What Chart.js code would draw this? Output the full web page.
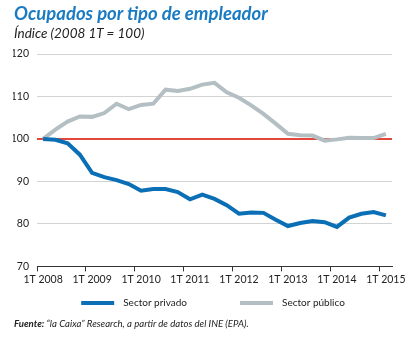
<!DOCTYPE html>
<html>
<head>
<meta charset="utf-8">
<script src="https://cdn.jsdelivr.net/npm/chart.js@4"></script>
<style>
  body { margin: 0; background: #fff; font-family: Lato, sans-serif; }
  #wrap { position: relative; width: 408px; height: 338px; }
  #chart { position: absolute; left: 0; top: 0; }
  .title { position: absolute; left: 14px; top: 2px; font-size: 18.5px; font-weight: bold; font-style: italic; color: #1b7bc2; white-space: nowrap; }
  .sub { position: absolute; left: 14px; top: 25px; font-size: 13.5px; font-style: italic; color: #222; white-space: nowrap; }
  .src { position: absolute; left: 14px; top: 318px; font-size: 9.6px; font-style: italic; color: #222; white-space: nowrap; }
</style>
</head>
<body>
<div id="wrap">
  <canvas id="chart" width="408" height="338"></canvas>
  <div class="title">Ocupados por tipo de empleador</div>
  <div class="sub">Índice (2008 1T = 100)</div>
  <div class="src"><b>Fuente:</b> “la Caixa” Research, a partir de datos del INE (EPA).</div>
</div>
<script>
// trimestres 1T 2008 .. 1T 2015
const quarters = [];
for (let y = 2008; y <= 2015; y++) {
    for (let q = 1; q <= 4; q++) {
        if (y === 2015 && q > 1) break;
        quarters.push(q + 'T ' + y);
    }
}

const privado = [100, 99.8, 99.0, 96.3, 92.0, 91.0, 90.3, 89.4, 87.8, 88.2,
    88.2, 87.5, 85.8, 86.9, 85.9, 84.4, 82.4, 82.7, 82.6, 81.0,
    79.5, 80.2, 80.7, 80.4, 79.3, 81.5, 82.4, 82.8, 82.0];

const publico = [100, 102.2, 104.1, 105.3, 105.2, 106.1, 108.3, 107.0, 108.0, 108.3,
    111.6, 111.3, 111.8, 112.8, 113.2, 111.0, 109.7, 107.9, 105.9, 103.6,
    101.2, 100.9, 100.8, 99.6, 99.9, 100.3, 100.2, 100.2, 101.2];

const yMin = 70, yMax = 120, yStep = 10;

const blue = '#0b6fb6';
const grey = '#b4bfc3';
const red = '#e2473b';
const txt = '#222';

// leyenda dibujada a mano: dos elementos centrados bajo el eje X
const lineLegend = {
    id: 'lineLegend',
    afterDraw: function (chart) {
        const c = chart.ctx;
        const sets = chart.data.datasets;
        const boxW = 33, gapText = 9, gapItem = 53;
        c.save();
        c.font = '10px Lato';
        c.textBaseline = 'middle';
        const widths = sets.map(function (d) { return boxW + gapText + c.measureText(d.label).width; });
        const total = widths.reduce(function (a, b) { return a + b; }, 0) + gapItem * (sets.length - 1);
        let x = 213 - total / 2;
        const y = 303;
        sets.forEach(function (d, i) {
            c.fillStyle = d.borderColor;
            c.fillRect(x, y - 2, boxW, 4);
            c.fillStyle = txt;
            c.fillText(d.label, x + boxW + gapText, y);
            x += widths[i] + gapItem;
        });
        c.restore();
    }
};

const ctx = document.getElementById('chart').getContext('2d');
new Chart(ctx, {
    type: 'line',
    data: {
        labels: quarters,
        datasets: [{
            label: 'Sector privado',
            data: privado,
            borderColor: blue,
            borderWidth: 4,
            pointRadius: 0,
            tension: 0
        }, {
            label: 'Sector público',
            data: publico,
            borderColor: grey,
            borderWidth: 4,
            pointRadius: 0,
            tension: 0
        }]
    },
    options: {
        responsive: false,
        animation: false,
        layout: { padding: { left: 13, right: 16, top: 54, bottom: 50 } },
        plugins: {
            tooltip: { enabled: false },
            legend: { display: false }
        },
        scales: {
            x: {
                offset: true,
                grid: {
                    offset: true,
                    drawOnChartArea: false,
                    tickLength: 5,
                    color: function (c) {
                        return (c.index % 4 === 0 && c.index < quarters.length) ? '#333' : 'rgba(0,0,0,0)';
                    }
                },
                border: { display: true, color: '#333', width: 1 },
                ticks: {
                    autoSkip: false,
                    maxRotation: 0,
                    padding: 2,
                    color: txt,
                    font: { family: 'Lato', size: 10.5 },
                    callback: function (v, i) {
                        return i % 4 === 0 ? quarters[i] : '';
                    }
                }
            },
            y: {
                min: yMin,
                max: yMax,
                afterFit: function (s) { s.width = 24; },
                border: { display: false },
                grid: {
                    drawTicks: false,
                    color: function (c) {
                        if (c.tick.value === 100) return red;
                        if (c.tick.value === yMin) return 'rgba(0,0,0,0)';
                        return '#d3d3d3';
                    },
                    lineWidth: function (c) { return c.tick.value === 100 ? 2 : 1; }
                },
                ticks: {
                    stepSize: yStep,
                    padding: 8,
                    color: txt,
                    font: { family: 'Lato', size: 10.5 }
                }
            }
        }
    },
    plugins: [lineLegend]
});
</script>
</body>
</html>
